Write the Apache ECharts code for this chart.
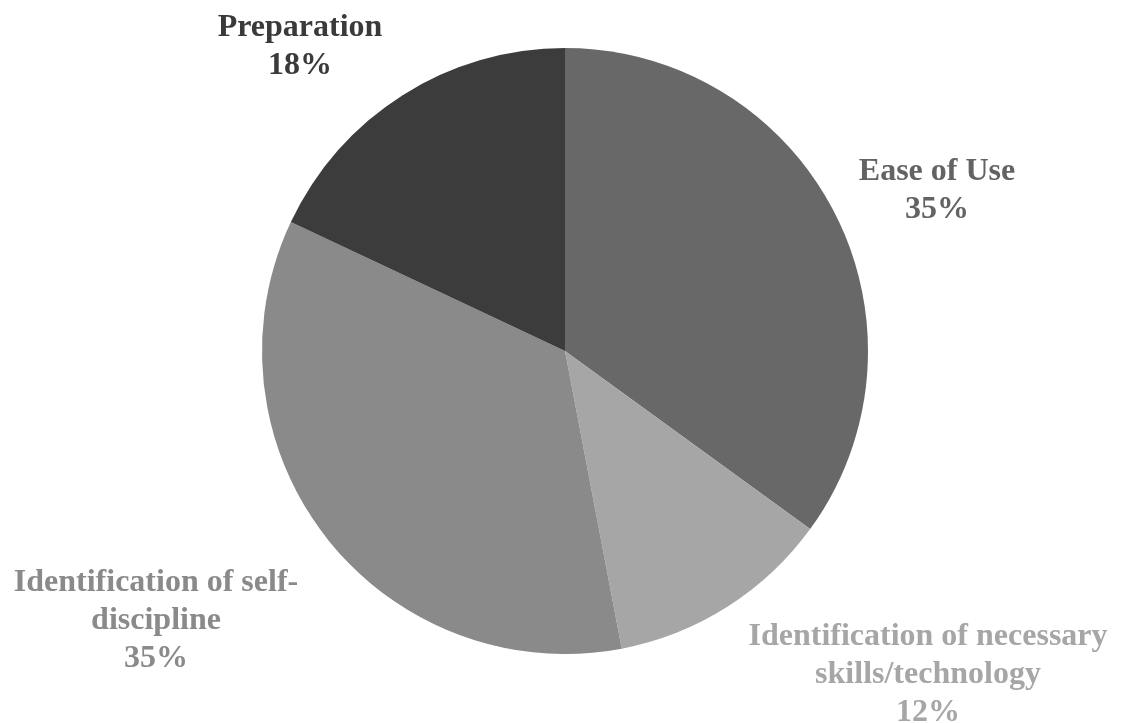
<!DOCTYPE html>
<html>
<head>
<meta charset="utf-8">
<script src="https://cdn.jsdelivr.net/npm/echarts@6/dist/echarts.min.js"></script>
<style>
html,body{margin:0;padding:0;background:#fff;}
#chart{width:1121px;height:723px;}
</style>
</head>
<body>
<div id="chart"></div>
<script>
const categories = ['Ease of Use', 'Identification of necessary skills/technology', 'Identification of self-discipline', 'Preparation'];
const labelTexts = ['Ease of Use', 'Identification of necessary\nskills/technology', 'Identification of self-\ndiscipline', 'Preparation'];
const values = [35, 12, 35, 18];
const colors = ['#686868', '#a6a6a6', '#8a8a8a', '#3c3c3c'];
const labelColors = ['#636363', '#a6a6a6', '#8a8a8a', '#3a3a3a'];
const labelPos = [[937, 191], [928, 675], [156, 621], [300, 47]];

const chart = echarts.init(document.getElementById('chart'));
chart.setOption({
  animation: false,
  series: [{
    type: 'pie',
    center: [565, 351],
    radius: 303,
    startAngle: 90,
    clockwise: true,
    avoidLabelOverlap: false,
    data: categories.map((c, i) => ({
      name: c,
      value: values[i],
      itemStyle: { color: colors[i] },
      label: { color: labelColors[i] }
    })),
    itemStyle: { borderWidth: 0 },
    label: {
      show: true,
      position: 'outside',
      formatter: p => labelTexts[p.dataIndex] + '\n' + p.percent + '%',
      fontFamily: '"Liberation Serif", "Times New Roman", serif',
      fontWeight: 'bold',
      fontSize: 32,
      lineHeight: 38,
      align: 'center'
    },
    labelLine: { show: false },
    labelLayout: p => ({
      x: labelPos[p.dataIndex][0],
      y: labelPos[p.dataIndex][1],
      align: 'center',
      verticalAlign: 'middle'
    })
  }]
});
</script>
</body>
</html>
